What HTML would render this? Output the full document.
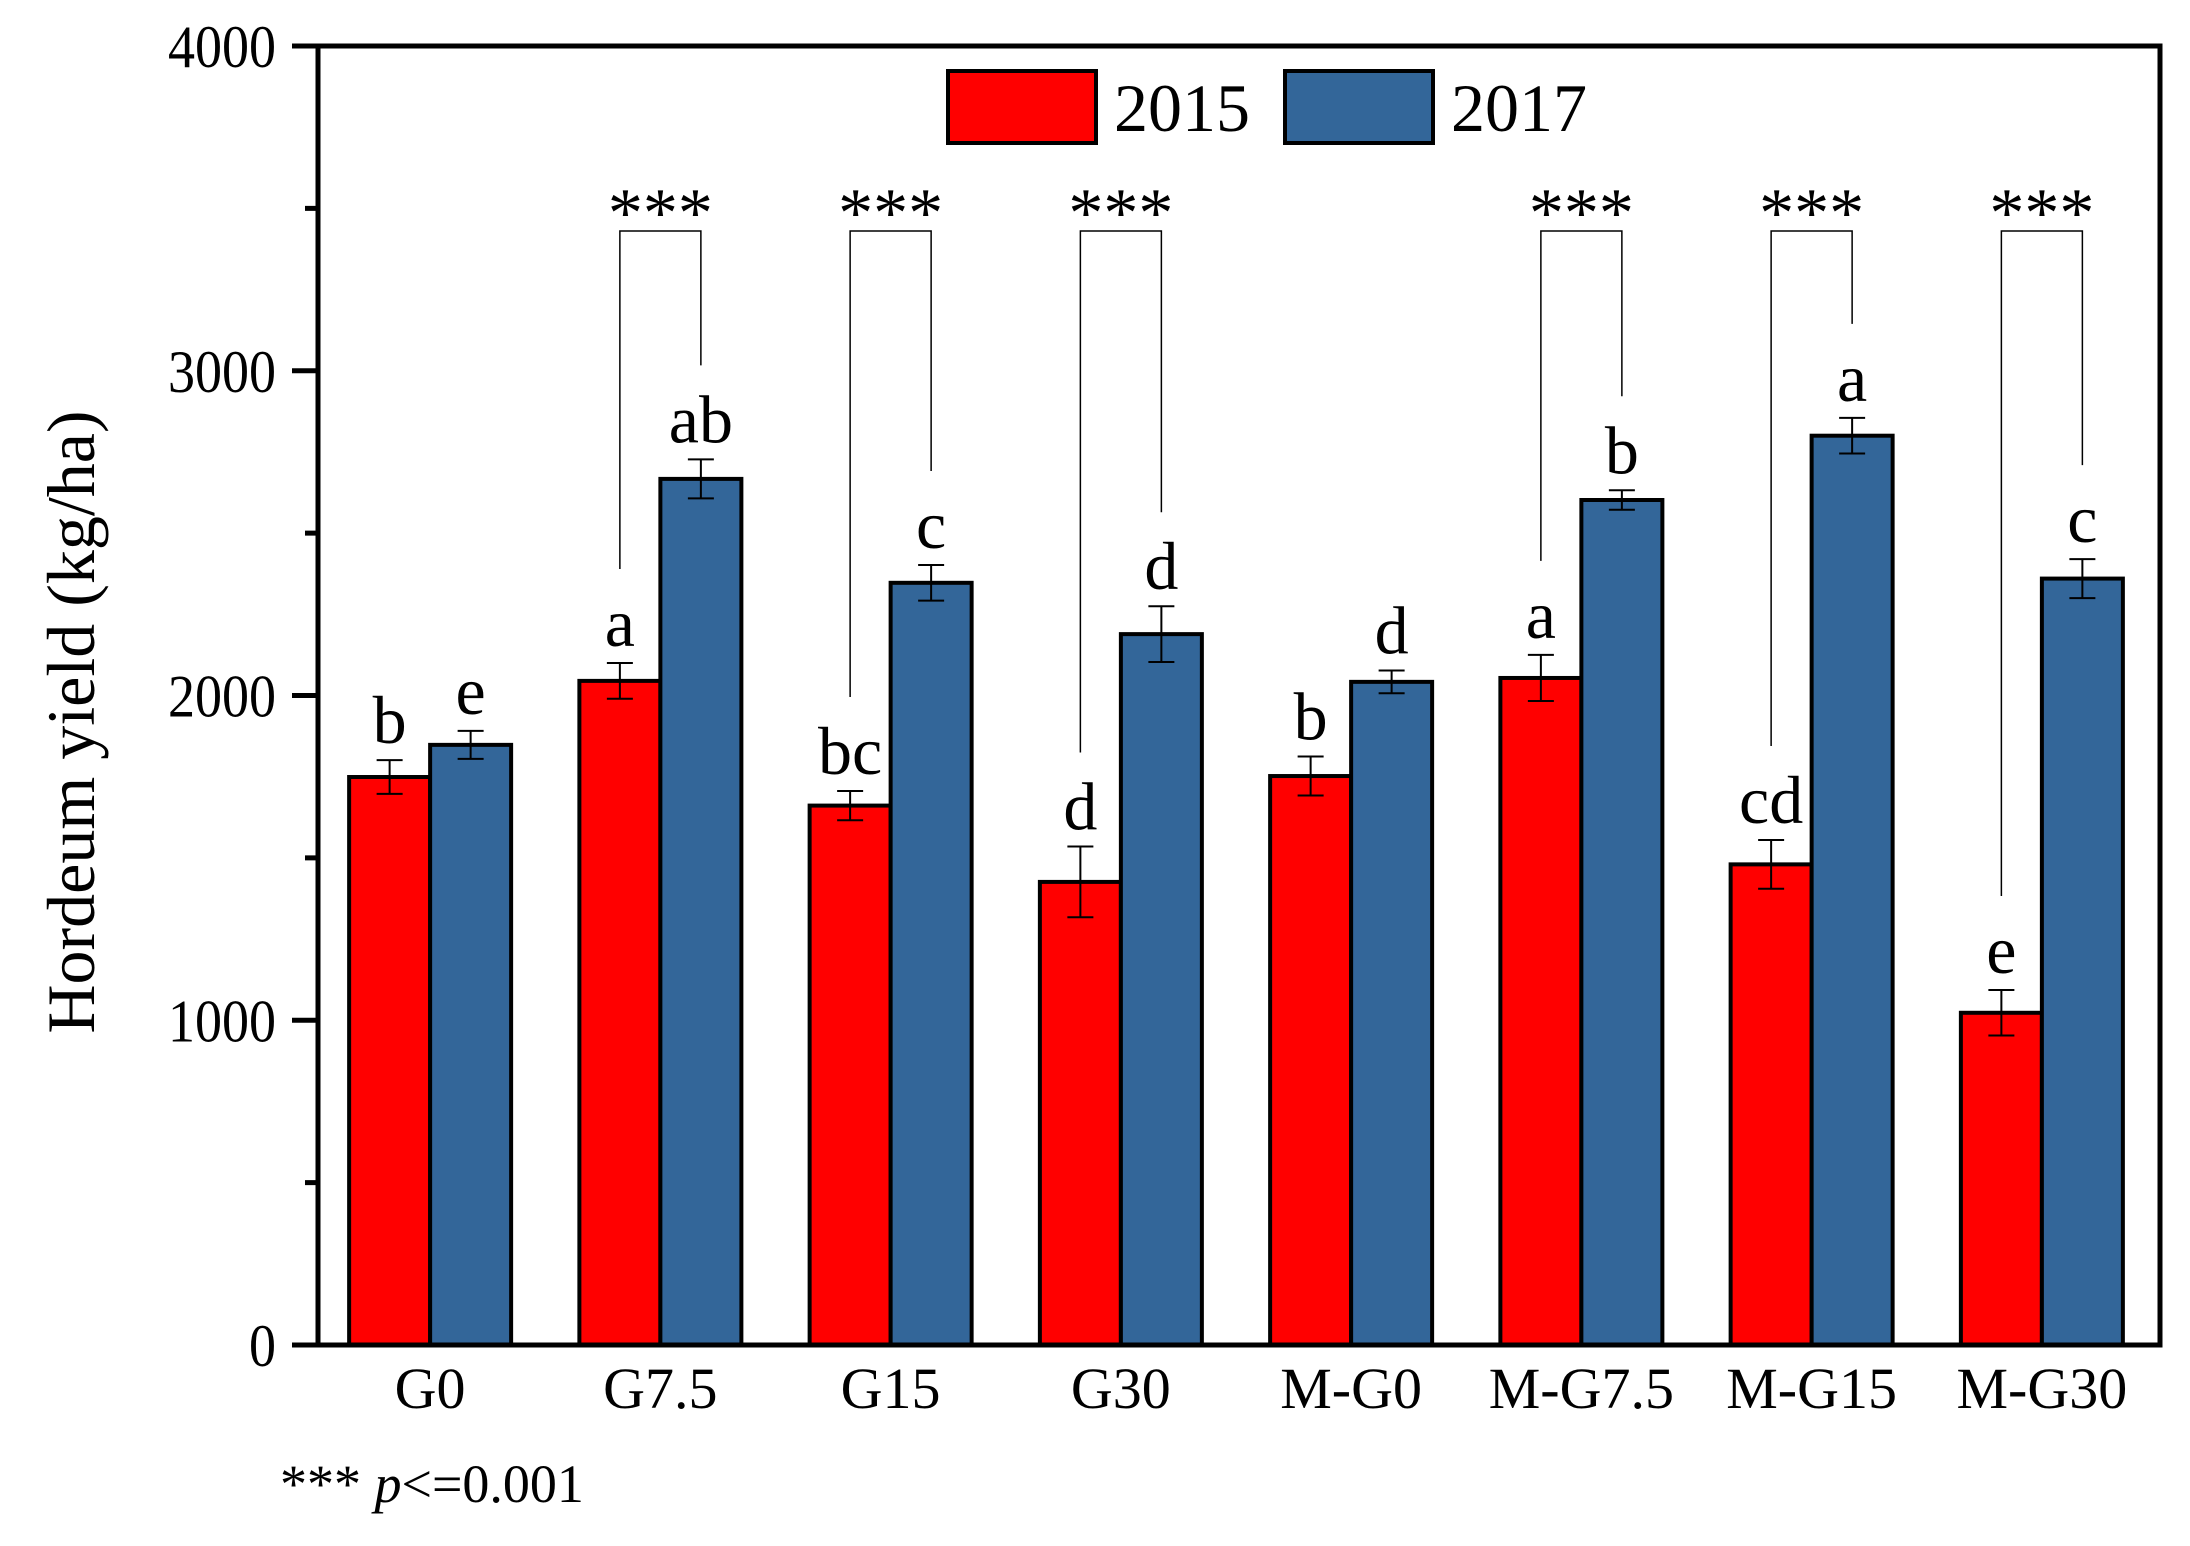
<!DOCTYPE html>
<html><head><meta charset="utf-8"><style>
html,body{margin:0;padding:0;background:#fff;}
svg{display:block;font-family:"Liberation Serif",serif;}
</style></head><body>
<svg id="chart" width="2190" height="1546" viewBox="0 0 2190 1546" xmlns="http://www.w3.org/2000/svg">
<g id="marks"></g>
<text x="0" y="0" transform="translate(94,722) rotate(-90)" font-size="68" text-anchor="middle">Hordeum yield (kg/ha)</text>
<g>
<rect x="948" y="71" width="148" height="72" fill="#ff0000" stroke="#000" stroke-width="4"/>
<text x="1114" y="131" font-size="68">2015</text>
<rect x="1285" y="71" width="148" height="72" fill="#336699" stroke="#000" stroke-width="4"/>
<text x="1451" y="131" font-size="68">2017</text>
</g>
<text x="280" y="1502" font-size="54">*** <tspan font-style="italic">p</tspan>&lt;=0.001</text>
</svg>
<script>
const categories = ["G0","G7.5","G15","G30","M-G0","M-G7.5","M-G15","M-G30"];
const y2015 = [1749,2045,1661,1426,1752,2054,1480,1023];
const e2015 = [52,55,45,109,60,71,75,70];
const y2017 = [1848,2667,2347,2189,2042,2602,2800,2360];
const e2017 = [43,60,55,86,35,30,55,60];
const lab2015 = ["b","a","bc","d","b","a","cd","e"];
const lab2017 = ["e","ab","c","d","d","b","a","c"];
const sig = [false,true,true,true,false,true,true,true];
const yTicks = [0,1000,2000,3000,4000];
const yMinor = [500,1500,2500,3500];

const NS = "http://www.w3.org/2000/svg";
const L = 318, R = 2160, T = 46, B = 1345, YMAX = 4000;
const band = (R - L) / categories.length;
const yS = v => B - v / YMAX * (B - T);
const xC = i => L + band * (i + 0.5) - 3;
const BW = 81;
const g = document.getElementById("marks");
function mk(tag, attrs, parent) {
  const el = document.createElementNS(NS, tag);
  for (const k in attrs) el.setAttribute(k, attrs[k]);
  (parent || g).appendChild(el);
  return el;
}

categories.forEach((c, i) => {
  const cx = xC(i);
  const series = [
    {v: y2015[i], e: e2015[i], col: "#ff0000", x0: cx - BW, lab: lab2015[i], n: "2015"},
    {v: y2017[i], e: e2017[i], col: "#336699", x0: cx, lab: lab2017[i], n: "2017"}
  ];
  series.forEach(s => {
    const r = mk("rect", {x: s.x0, y: yS(s.v), width: BW, height: B - yS(s.v), fill: s.col, stroke: "#000", "stroke-width": 4});
    
    
    const mx = s.x0 + BW / 2, top = yS(s.v + s.e), bot = yS(s.v - s.e);
    const eb = mk("path", {d: `M${mx},${top}V${bot}M${mx-13},${top}H${mx+13}M${mx-13},${bot}H${mx+13}`, stroke: "#000", "stroke-width": 2, fill: "none"});
    
    
    const t = mk("text", {x: mx, y: top - 17, "font-size": 68, "text-anchor": "middle"});
    t.textContent = s.lab;
    
    
    s.etop = top; s.mx = mx;
  });
  if (sig[i]) {
    const a = series[0], b = series[1], yt = 231;
    const br = mk("path", {d: `M${a.mx},${a.etop-94}V${yt}H${b.mx}V${b.etop-94}`, stroke: "#000", "stroke-width": 1.5, fill: "none"});
    
    
    const st = mk("text", {x: (a.mx + b.mx) / 2, y: 236, "font-size": 70, "text-anchor": "middle"});
    st.textContent = "***";
    
    
  }
  const xl = mk("text", {x: cx, y: 1408, "font-size": 58, "text-anchor": "middle"});
  xl.textContent = c;
  
  
});

yTicks.forEach(v => {
  const tk = mk("line", {x1: L - 26, x2: L, y1: yS(v), y2: yS(v), stroke: "#000", "stroke-width": 5});
  
  
  const tl = mk("text", {x: 0, y: 0, "font-size": 60, "text-anchor": "end", transform: `translate(${L - 42},${yS(v) + 21}) scale(0.9,1)`});
  tl.textContent = v;
  
  
});
yMinor.forEach(v => {
  const tk = mk("line", {x1: L - 13, x2: L, y1: yS(v), y2: yS(v), stroke: "#000", "stroke-width": 5});
  
  
});
const frame = mk("rect", {x: L, y: T, width: R - L, height: B - T, fill: "none", stroke: "#000", "stroke-width": 5});


</script>
</body></html>
